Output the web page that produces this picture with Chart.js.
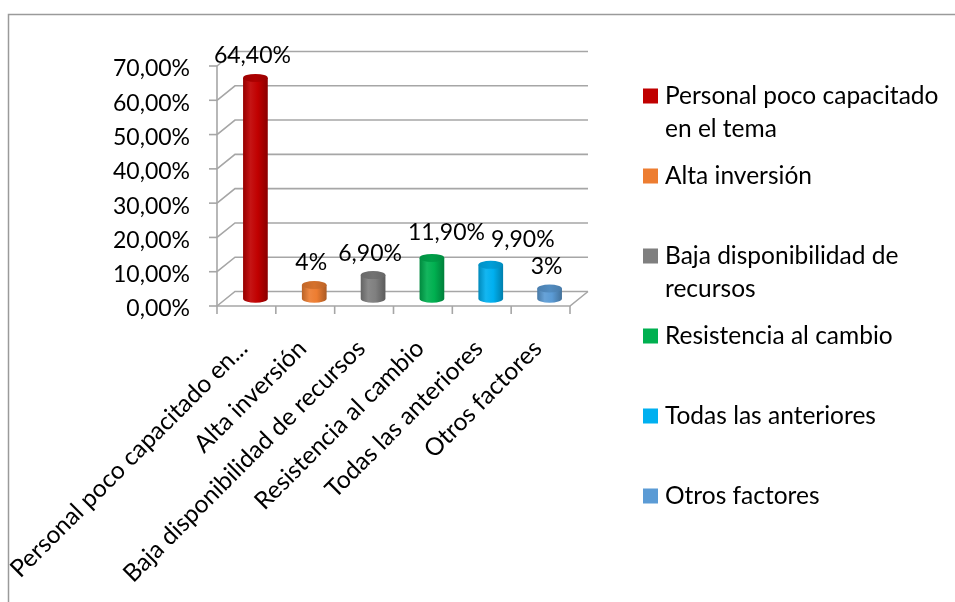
<!DOCTYPE html>
<html><head><meta charset="utf-8">
<script src="https://cdn.jsdelivr.net/npm/chart.js@4.4.0/dist/chart.umd.min.js"></script>
<style>html,body{margin:0;padding:0;background:#fff;overflow:hidden}#wrap{position:relative;width:955px;height:602px}</style>
</head><body><div id="wrap"><canvas id="c" width="955" height="602"></canvas></div>
<script>
const categories = ["Personal poco capacitado en el tema", "Alta inversión", "Baja disponibilidad de recursos", "Resistencia al cambio", "Todas las anteriores", "Otros factores"];
const tickLabels = ["Personal poco capacitado en...", "Alta inversión", "Baja disponibilidad de recursos", "Resistencia al cambio", "Todas las anteriores", "Otros factores"];
const legendLines = [["Personal poco capacitado", "en el tema"], ["Alta inversión"], ["Baja disponibilidad de", "recursos"], ["Resistencia al cambio"], ["Todas las anteriores"], ["Otros factores"]];
const values = [64.4, 4, 6.9, 11.9, 9.9, 3];
const barColors = ["#C00000", "#ED7D31", "#7F7F7F", "#00B050", "#00B0F0", "#5B9BD5"];
const yTickValues = [0, 10, 20, 30, 40, 50, 60, 70];

const FONT = "Lato, 'Liberation Sans', sans-serif";
const FS_NUM = 23;   // numbers
const FS_TXT = 24.5; // words
const DX = 18, DY = -14.5;      // depth offset of back wall
const MX = DX / 2, MY = DY / 2; // bars sit mid-depth
const GRID = "#a6a6a6";

function fmtPct(v) {
  return Number.isInteger(v) ? v + "%" : v.toFixed(2).replace(".", ",") + "%";
}
function shade(hex, f) {
  const n = parseInt(hex.slice(1), 16);
  let r = (n >> 16) & 255, g = (n >> 8) & 255, b = n & 255;
  const m = c => f >= 1 ? Math.round(c + (255 - c) * (f - 1)) : Math.round(c * f);
  return "rgb(" + m(r) + "," + m(g) + "," + m(b) + ")";
}

const scene3d = {
  id: "scene3d",
  beforeDatasetsDraw(chart) {
    const ctx = chart.ctx, a = chart.chartArea, ys = chart.scales.y, xs = chart.scales.x;
    ctx.save();
    ctx.strokeStyle = GRID; ctx.lineWidth = 1.6;
    yTickValues.forEach(v => {
      const yf = ys.getPixelForValue(v);
      ctx.beginPath();
      ctx.moveTo(a.left, yf);
      ctx.lineTo(a.left + DX, yf + DY);
      ctx.lineTo(a.right + DX, yf + DY);
      ctx.stroke();
      ctx.beginPath();
      ctx.moveTo(a.left - 8, yf); ctx.lineTo(a.left, yf); ctx.stroke();
    });
    ctx.beginPath(); ctx.moveTo(a.left, a.top); ctx.lineTo(a.left, a.bottom); ctx.stroke();
    ctx.beginPath();
    ctx.moveTo(a.left, a.bottom); ctx.lineTo(a.right, a.bottom); ctx.lineTo(a.right + DX, a.bottom + DY);
    ctx.stroke();
    const n = categories.length;
    const cw = (xs.getPixelForValue(1) - xs.getPixelForValue(0));
    for (let i = 0; i <= n; i++) {
      const px = xs.getPixelForValue(0) - cw / 2 + i * cw;
      ctx.beginPath(); ctx.moveTo(px, a.bottom); ctx.lineTo(px, a.bottom + 8); ctx.stroke();
    }
    const meta = chart.getDatasetMeta(0);
    meta.data.forEach((el, i) => {
      const col = barColors[i];
      const cx = el.x + MX, ty = el.y + MY, by = el.base + MY;
      const rx = el.width / 2, ry = 4;
      const g = ctx.createLinearGradient(cx - rx, 0, cx + rx, 0);
      g.addColorStop(0, shade(col, 0.78));
      g.addColorStop(0.3, shade(col, 1.08));
      g.addColorStop(0.6, shade(col, 1.0));
      g.addColorStop(1, shade(col, 0.72));
      ctx.beginPath();
      ctx.moveTo(cx - rx, ty);
      ctx.lineTo(cx - rx, by);
      ctx.ellipse(cx, by, rx, ry, 0, Math.PI, 0, true);
      ctx.lineTo(cx + rx, ty);
      ctx.closePath();
      ctx.fillStyle = g; ctx.fill();
      const gc = ctx.createLinearGradient(cx - rx, 0, cx + rx, 0);
      gc.addColorStop(0, shade(col, 0.82));
      gc.addColorStop(0.5, shade(col, 0.9));
      gc.addColorStop(1, shade(col, 0.8));
      ctx.beginPath();
      ctx.ellipse(cx, ty, rx, ry, 0, 0, Math.PI * 2);
      ctx.fillStyle = gc; ctx.fill();
    });
    ctx.restore();
    return false;
  },
  afterDraw(chart) {
    const ctx = chart.ctx;
    ctx.save();
    // value labels (shifted right when the box would overlap an earlier one)
    ctx.font = FS_NUM + "px " + FONT; ctx.fillStyle = "#000";
    ctx.textAlign = "center"; ctx.textBaseline = "middle";
    const boxes = [];
    const H = 22;
    chart.getDatasetMeta(0).data.forEach((el, i) => {
      const t = fmtPct(values[i]);
      const w = ctx.measureText(t).width;
      let cx = el.x + MX - 3;
      let cy = el.y + MY - 22;
      boxes.forEach(b => {
        const vOverlap = Math.abs(b.cy - cy) < H;
        if (vOverlap && cx - w / 2 < b.right + 6) { cx = b.right + 6 + w / 2; cy -= 3; }
      });
      ctx.fillText(t, cx, cy);
      boxes.push({ right: cx + w / 2, cy: cy });
    });
    // legend
    ctx.font = FS_TXT + "px " + FONT;
    ctx.textAlign = "left";
    legendLines.forEach((lines, i) => {
      const y0 = 96 + 80 * i;
      ctx.fillStyle = barColors[i];
      ctx.fillRect(643, y0 - 7.5, 15, 15);
      ctx.fillStyle = "#000";
      lines.forEach((t, j) => ctx.fillText(t, 665, y0 + j * 33));
    });
    // outer frame
    ctx.strokeStyle = "#9a9a9a"; ctx.lineWidth = 1.5;
    ctx.beginPath(); ctx.moveTo(8.5, 602); ctx.lineTo(8.5, 14.5); ctx.lineTo(955, 14.5); ctx.stroke();
    ctx.restore();
  }
};

new Chart(document.getElementById("c"), {
  type: "bar",
  data: {
    labels: categories,
    datasets: [{ data: values, backgroundColor: barColors, barPercentage: 0.42, categoryPercentage: 1.0 }]
  },
  options: {
    responsive: false, animation: false, devicePixelRatio: 1,
    layout: { padding: { top: 66, right: 385, bottom: 0, left: 0 } },
    plugins: { legend: { display: false }, tooltip: { enabled: false } },
    scales: {
      x: {
        grid: { display: false, drawTicks: false }, border: { display: false },
        ticks: {
          autoSkip: false, minRotation: 45, maxRotation: 45, padding: 28, labelOffset: -3,
          color: "#000", font: { family: FONT, size: FS_TXT },
          callback: (v, i) => tickLabels[i]
        },
        afterFit: s => { s.height = 296; s.paddingLeft = 0; s.paddingRight = 0; }
      },
      y: {
        min: 0, max: 70,
        grid: { display: false, drawTicks: false }, border: { display: false },
        ticks: {
          stepSize: 10, padding: 27, labelOffset: 3,
          color: "#000", font: { family: FONT, size: FS_NUM },
          callback: v => v.toFixed(2).replace(".", ",") + "%"
        },
        afterFit: s => { s.width = 217; s.paddingTop = 0; s.paddingBottom = 0; }
      }
    }
  },
  plugins: [scene3d]
});
</script></body></html>
